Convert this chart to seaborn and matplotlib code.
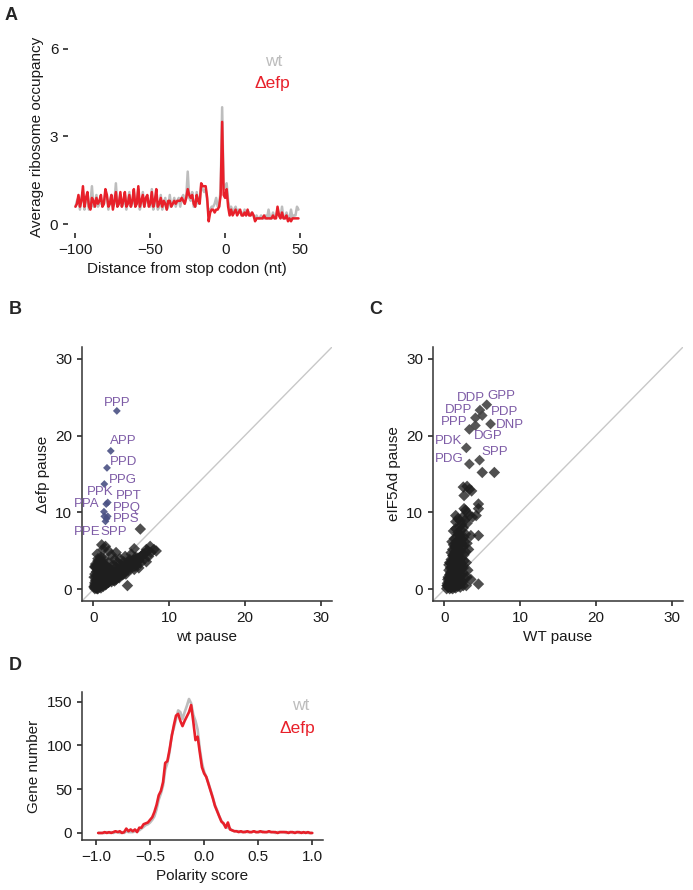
import numpy as np
import pandas as pd
import seaborn as sns
import matplotlib.pyplot as plt

# ---- panel A: average ribosome occupancy around stop codon ----
dist_nt = np.arange(-100, 50)
occ_efp = [0.6, 0.7, 1.0, 0.6, 0.8, 1.3, 0.6, 0.9, 1.1, 0.6,
           0.5, 0.9, 0.8, 0.6, 0.9, 0.7, 0.8, 1.0, 0.6, 0.7,
           1.2, 1.0, 0.6, 0.7, 1.0, 0.5, 0.8, 1.1, 0.6, 0.7,
           1.1, 0.6, 0.8, 1.1, 0.6, 0.7, 1.0, 0.6, 0.8, 1.2,
           0.6, 0.7, 1.3, 0.6, 0.8, 1.0, 0.6, 0.9, 1.0, 0.6,
           0.7, 1.1, 0.6, 0.8, 1.2, 0.6, 0.7, 0.9, 0.6, 0.8,
           0.7, 0.5, 0.8, 0.8, 0.6, 0.7, 0.8, 0.7, 0.8, 0.8,
           0.8, 0.9, 0.8, 0.7, 0.9, 1.2, 1.0, 0.9, 1.0, 0.7,
           0.6, 1.0, 0.8, 0.7, 1.4, 1.3, 1.3, 1.3, 0.9, 0.1,
           0.4, 0.5, 0.5, 0.4, 0.5, 0.5, 0.6, 1.0, 3.5, 1.0,
           0.9, 1.2, 0.6, 0.3, 0.5, 0.3, 0.4, 0.5, 0.3, 0.4,
           0.5, 0.3, 0.3, 0.4, 0.3, 0.5, 0.3, 0.3, 0.4, 0.3,
           0.1, 0.2, 0.2, 0.2, 0.2, 0.2, 0.3, 0.2, 0.2, 0.2,
           0.2, 0.2, 0.3, 0.2, 0.2, 0.6, 0.3, 0.2, 0.4, 0.2,
           0.2, 0.3, 0.1, 0.2, 0.1, 0.2, 0.2, 0.2, 0.2, 0.2]
occ_wt = [0.6, 0.8, 0.9, 0.5, 0.9, 1.1, 0.5, 0.8, 1.0, 0.5,
          0.7, 1.3, 0.6, 0.7, 1.0, 0.6, 0.7, 0.9, 0.6, 0.7,
          1.1, 0.9, 0.5, 0.8, 1.0, 0.6, 0.7, 1.4, 0.6, 0.7,
          1.0, 0.6, 0.7, 1.0, 0.5, 0.8, 1.1, 0.6, 0.7, 1.1,
          0.6, 0.8, 1.2, 0.5, 0.7, 1.1, 0.6, 0.8, 0.9, 0.7,
          0.6, 1.2, 0.5, 0.7, 1.0, 0.5, 0.6, 1.0, 0.5, 0.7,
          0.9, 0.5, 0.6, 1.0, 0.6, 0.7, 0.9, 0.6, 0.8, 0.9,
          0.6, 0.9, 1.0, 0.7, 0.9, 1.8, 0.9, 0.8, 1.1, 0.6,
          0.6, 1.1, 0.7, 0.8, 1.3, 1.2, 1.1, 1.2, 0.8, 0.3,
          0.5, 0.6, 0.6, 0.7, 0.9, 0.6, 0.6, 1.2, 4.0, 1.2,
          1.3, 1.4, 0.8, 0.5, 0.6, 0.4, 0.5, 0.6, 0.4, 0.5,
          0.4, 0.4, 0.3, 0.5, 0.3, 0.4, 0.4, 0.3, 0.4, 0.3,
          0.2, 0.3, 0.2, 0.2, 0.3, 0.2, 0.2, 0.3, 0.2, 0.5,
          0.2, 0.2, 0.4, 0.2, 0.3, 0.5, 0.3, 0.2, 0.6, 0.2,
          0.2, 0.4, 0.2, 0.2, 0.5, 0.2, 0.3, 0.3, 0.6, 0.5]

# ---- panel B: wt vs delta-efp pause scores ----
b_cloud_x = [0.2, 0.4, 0.6, 0.8, 1.0, 0.3, 0.5, 0.7, 0.9, 1.1, 1.3, 0.2, 0.4, 0.6, 0.8, 1.0, 1.2, 1.4, 1.6,
             0.3, 0.5, 0.7, 0.9, 1.1, 1.3, 1.5, 1.7, 1.9, 0.4, 0.6, 0.8, 1.0, 1.2, 1.4, 1.6, 1.8, 2.0, 2.2,
             0.5, 0.7, 0.9, 1.1, 1.3, 1.5, 1.7, 1.9, 2.1, 2.3, 2.5, 2.7, 0.6, 0.9, 1.2, 1.5, 1.8, 2.1, 2.4,
             2.7, 3.0, 3.0, 0.5, 1.0, 1.4, 2.0, 2.6, 3.0, 3.3, 3.6, 3.3, 3.6, 2.8, 3.2, 3.6, 3.9, 4.2, 4.0,
             4.4, 3.5, 4.0, 4.4, 4.8, 4.6, 5.0, 4.2, 4.8, 5.2, 5.5, 5.4, 5.8, 5.0, 5.6, 6.0, 6.2, 6.0, 6.5,
             6.8, 7.0, 7.3, 7.0, 7.6, 8.0, 8.3, 7.5, 4.5, 1.1, 1.6, 2.0, 1.3, 3.0, 2.4, 5.4, 6.2,
             0.1, 0.2, 0.3, 0.1, 0.2, 0.5, 0.4, 0.3, 0.2, 1.6, 2.0, 2.4, 2.8, 3.4, 3.8, 4.3,
             0.1, 0.3, 0.5, 0.7, 0.9, 1.1, 1.3, 1.5, 1.7, 1.9, 2.1, 2.3, 2.5,
             2.9, 3.2, 3.5, 3.8, 4.1, 4.4, 4.7, 5.0, 5.3, 5.6, 5.9, 6.3, 6.6, 6.9, 7.2,
             0.2, 0.6, 1.0, 1.4, 1.8, 2.2, 2.6, 3.1, 3.6, 4.1, 4.6, 5.1, 5.7]
b_cloud_y = [0.1, 0.2, 0.1, 0.3, 0.2, 0.5, 0.7, 0.5, 0.8, 0.5, 0.7, 0.9, 1.1, 1.3, 1.0, 1.2, 1.0, 1.1, 0.9,
             1.6, 1.8, 1.6, 1.9, 1.6, 1.4, 1.5, 1.3, 1.2, 2.3, 2.5, 2.2, 2.6, 2.1, 2.0, 1.9, 1.8, 1.6, 1.4,
             3.0, 3.3, 2.9, 3.1, 2.7, 2.5, 2.4, 2.2, 2.0, 1.8, 1.5, 1.2, 3.7, 3.6, 3.5, 3.2, 3.0, 2.7, 2.4,
             2.1, 1.8, 1.3, 4.6, 4.2, 4.0, 3.5, 3.2, 2.9, 2.5, 2.2, 1.7, 1.9, 3.9, 3.5, 3.2, 2.8, 2.4, 2.0,
             2.7, 4.0, 3.6, 3.3, 3.0, 2.5, 2.7, 4.3, 3.9, 3.5, 3.0, 2.6, 3.2, 4.6, 4.2, 3.8, 3.4, 2.8, 4.5,
             4.0, 3.6, 4.3, 5.2, 4.8, 5.2, 5.0, 5.6, 0.5, 5.8, 5.6, 5.0, 5.2, 4.8, 4.5, 5.3, 7.85,
             0.4, 0.7, 1.2, 1.6, 2.0, 0.1, 2.8, 3.3, 3.0, 0.6, 0.9, 1.0, 1.1, 1.5, 1.9, 2.0,
             0.3, 0.3, 0.4, 0.9, 0.6, 0.8, 0.4, 1.0, 0.7, 0.9, 1.1, 1.2, 1.3,
             1.6, 2.1, 2.4, 2.6, 2.9, 3.1, 3.4, 3.6, 3.8, 3.9, 4.1, 4.3, 4.6, 4.8, 5.0,
             2.9, 4.0, 3.9, 2.9, 2.6, 2.5, 2.6, 2.3, 2.6, 3.2, 3.6, 3.3, 3.5]
b_hit_x = [3.1, 2.3, 1.8, 1.45, 1.7, 1.9, 1.4, 1.9, 1.6, 1.45, 1.75]
b_hit_y = [23.2, 18.0, 15.8, 13.7, 11.1, 11.3, 10.1, 9.5, 8.85, 9.5, 9.2]
b_hit_labels = ["PPP", "APP", "PPD", "PPG", "PPK", "PPT", "PPA", "PPQ", "PPS", "PPE", "SPP"]
b_label_x = [3.1, 3.9, 4.0, 3.9, 0.84, 4.7, -0.9, 4.4, 4.3, -0.8, 2.7]
b_label_y = [24.2, 19.3, 16.5, 14.2, 12.6, 12.1, 11.1, 10.55, 9.15, 7.5, 7.45]

# ---- panel C: WT vs eIF5A-depleted pause scores ----
c_cloud_x = [0.3, 0.5, 0.7, 0.9, 1.1, 1.3, 1.5, 1.8, 2.1, 2.5, 0.4, 0.6, 0.8, 1.0, 1.2, 1.4, 1.6, 1.9, 2.2,
             0.5, 0.7, 0.9, 1.1, 1.3, 1.5, 1.7, 2.0, 2.3, 0.6, 0.8, 1.0, 1.2, 1.4, 1.6, 1.8, 2.1, 2.5,
             0.7, 0.9, 1.1, 1.3, 1.5, 1.7, 1.9, 2.2, 2.6, 0.9, 1.1, 1.3, 1.5, 1.7, 1.9, 2.1, 2.4, 2.8,
             1.0, 1.3, 1.5, 1.7, 1.9, 2.1, 2.3, 2.6, 1.2, 1.5, 1.8, 2.0, 2.2, 2.5, 2.8, 1.5, 1.8, 2.1,
             2.4, 2.7, 3.0, 1.5, 2.6, 3.0, 2.8, 3.3, 3.7, 4.2, 4.5, 4.5, 2.6, 2.5, 3.0, 3.3, 3.6, 3.5,
             4.5, 3.5, 4.5, 2.9, 3.0, 3.2, 2.9, 3.1, 3.0, 2.7, 5.0, 6.6,
             0.4, 0.6, 0.8, 1.0, 1.2, 1.4, 1.7, 2.0, 2.3, 1.2, 1.6, 2.0,
             0.35, 0.55, 0.75, 0.95, 1.15, 1.35, 1.55, 1.75, 1.95, 2.15, 2.35,
             0.45, 0.65, 0.85, 1.05, 1.25, 1.45, 1.65, 1.85, 2.05, 2.25, 2.45,
             0.6, 0.8, 1.0, 1.2, 1.4, 1.6, 1.8, 2.0, 2.2, 2.4, 2.6,
             1.1, 1.3, 1.5, 1.7, 1.9, 2.1, 2.3, 2.5, 2.7]
c_cloud_y = [0.1, 0.3, 0.1, 0.2, 0.1, 0.3, 0.2, 0.4, 0.3, 0.5, 0.8, 1.0, 0.7, 1.2, 0.9, 1.1, 0.8, 1.0, 1.2,
             1.6, 1.9, 1.5, 2.0, 1.7, 2.2, 1.8, 2.0, 1.9, 2.5, 2.8, 2.4, 3.0, 2.6, 3.1, 2.7, 3.0, 2.8,
             3.5, 3.9, 3.4, 4.1, 3.6, 4.2, 3.8, 4.0, 3.7, 4.8, 5.2, 4.7, 5.4, 5.0, 5.6, 5.1, 5.5, 4.9,
             6.2, 6.6, 6.0, 6.9, 6.4, 7.0, 6.5, 6.8, 7.6, 7.9, 7.4, 8.2, 7.7, 8.0, 7.2, 8.8, 9.2, 8.9,
             9.4, 9.0, 8.6, 9.6, 10.5, 10.0, 10.3, 9.6, 9.4, 9.6, 10.5, 11.1, 12.2, 13.3, 13.4, 13.0, 12.8, 7.0,
             7.0, 1.3, 0.7, 0.5, 6.0, 5.2, 3.5, 2.5, 1.6, 1.5, 15.2, 15.2,
             0.5, 1.4, 2.0, 3.3, 4.4, 5.6, 6.3, 7.1, 8.4, 5.8, 4.5, 3.6,
             0.5, 0.6, 0.4, 0.7, 0.5, 0.6, 0.5, 0.7, 0.6, 0.8, 0.9,
             1.3, 1.5, 2.2, 1.6, 2.4, 1.4, 2.4, 1.5, 2.5, 2.7, 2.2,
             3.2, 3.4, 2.9, 3.6, 3.1, 3.5, 3.3, 3.6, 3.4, 3.2, 4.5,
             4.4, 4.3, 4.9, 4.6, 4.4, 4.8, 6.0, 5.7, 6.2]
c_hit_x = [5.6, 4.7, 5.0, 4.1, 3.3, 6.1, 4.1, 2.9, 3.3, 4.65]
c_hit_y = [24.0, 23.3, 22.6, 22.3, 20.8, 21.5, 21.3, 18.4, 16.3, 16.8]
c_hit_labels = ["GPP", "DDP", "PDP", "DPP", "PPP", "DNP", "DGP", "PDK", "PDG", "SPP"]
c_label_x = [7.5, 3.5, 8.0, 1.9, 1.3, 8.6, 5.75, 0.57, 0.7, 6.7]
c_label_y = [25.1, 24.9, 23.1, 23.3, 21.8, 21.4, 19.9, 19.3, 17.0, 17.8]

# ---- panel D: polarity score distribution ----
polarity = np.round(np.linspace(-0.98, 1.0, 100), 2)
genes_efp = [0, 0, 0, 1, 0, 1, 0, 1, 2, 1, 2, 0, 1, 5, 2, 4, 2, 4, 1, 6,
             6, 10, 11, 12, 15, 18, 24, 32, 43, 48, 58, 80, 82, 95, 110, 123, 134, 136, 128, 122,
             128, 133, 138, 146, 127, 106, 110, 92, 75, 68, 64, 56, 48, 40, 31, 25, 19, 13, 11, 6,
             12, 4, 3, 2, 2, 1, 2, 1, 1, 2, 1, 1, 2, 1, 1, 2, 1, 1, 1, 2,
             1, 1, 1, 0, 1, 1, 1, 1, 0, 1, 1, 0, 1, 1, 0, 1, 0, 1, 0, 0]
genes_wt = [0, 0, 0, 0, 1, 0, 1, 0, 1, 1, 0, 1, 0, 2, 1, 1, 1, 2, 3, 3,
            5, 7, 9, 10, 12, 15, 19, 27, 38, 45, 54, 72, 80, 92, 112, 120, 130, 140, 138, 130,
            138, 145, 153, 148, 135, 128, 118, 96, 80, 70, 64, 57, 49, 41, 32, 26, 19, 14, 10, 8,
            6, 5, 3, 2, 2, 2, 1, 1, 2, 1, 1, 1, 2, 1, 1, 1, 2, 1, 1, 1,
            1, 1, 0, 1, 1, 1, 1, 0, 1, 1, 0, 1, 1, 0, 1, 0, 1, 0, 0, 0]

GREY = "#BDBDBD"
RED = "#E8202A"
PURPLE = "#7D5BA6"
INK = "#1a1a1a"

sns.set_theme(style="ticks")
plt.rcParams["font.family"] = ["Liberation Sans", "DejaVu Sans"]
plt.rcParams.update({"axes.edgecolor": "#333333", "axes.linewidth": 1.1,
                     "xtick.color": "#333333", "ytick.color": "#333333",
                     "xtick.labelcolor": INK, "ytick.labelcolor": INK,
                     "xtick.labelsize": 11, "ytick.labelsize": 11,
                     "axes.labelsize": 11, "axes.labelcolor": INK,
                     "xtick.major.size": 3.5, "ytick.major.size": 3.5})

fig = plt.figure(figsize=(6.93, 8.9), dpi=100)

# panel A
axA = fig.add_axes([0.0981, 0.7382, 0.3434, 0.2169])
dfA = pd.DataFrame({"dist": np.concatenate([dist_nt, dist_nt]),
                    "occ": occ_wt + occ_efp,
                    "strain": ["wt"] * len(dist_nt) + ["efp"] * len(dist_nt)})
sns.lineplot(data=dfA, x="dist", y="occ", hue="strain", palette={"wt": GREY, "efp": RED},
             linewidth=1.8, legend=False, ax=axA)
axA.set_xlim(-105, 54)
axA.set_ylim(-0.3, 6.3)
axA.set_xticks([-100, -50, 0, 50])
axA.set_yticks([0, 3, 6])
for s in axA.spines.values():
    s.set_visible(False)
axA.set_xlabel("Distance from stop codon (nt)")
axA.set_ylabel("Average ribosome occupancy")
axA.text(0.866, 0.89, "wt", color=GREY, fontsize=12.5, ha="center", va="center", transform=axA.transAxes)
axA.text(0.857, 0.772, "\u0394efp", color=RED, fontsize=12.5, ha="center", va="center", transform=axA.transAxes)


def pause_panel(ax, cx, cy, hx, hy, hl, lx, ly, hit_color, hit_size, xlabel, ylabel):
    ax.plot([-2, 32], [-2, 32], color="#C8C8C8", lw=1.0, zorder=1)
    sns.scatterplot(x=cx, y=cy, marker="D", s=34, color="#1e1e1e", alpha=0.78,
                    edgecolor="none", ax=ax, zorder=2)
    sns.scatterplot(x=hx, y=hy, marker="D", s=hit_size, color=hit_color, alpha=0.9,
                    edgecolor="none", ax=ax, zorder=3)
    for t, x, y in zip(hl, lx, ly):
        ax.text(x, y, t, color=PURPLE, fontsize=9.5, ha="center", va="center", zorder=4)
    ax.set_xlim(-1.5, 31.5)
    ax.set_ylim(-1.5, 31.5)
    ax.set_xticks([0, 10, 20, 30])
    ax.set_yticks([0, 10, 20, 30])
    ax.set_xlabel(xlabel)
    ax.set_ylabel(ylabel)
    sns.despine(ax=ax)


axB = fig.add_axes([0.1183, 0.3247, 0.3608, 0.2854])
pause_panel(axB, b_cloud_x, b_cloud_y, b_hit_x, b_hit_y, b_hit_labels, b_label_x, b_label_y,
            "#4a5184", 16, "wt pause", "\u0394efp pause")

axC = fig.add_axes([0.6248, 0.3247, 0.3608, 0.2854])
pause_panel(axC, c_cloud_x, c_cloud_y, c_hit_x, c_hit_y, c_hit_labels, c_label_x, c_label_y,
            "#444444", 30, "WT pause", "eIF5Ad pause")

# panel D
axD = fig.add_axes([0.1183, 0.0562, 0.3478, 0.1663])
dfD = pd.DataFrame({"score": np.concatenate([polarity, polarity]),
                    "n": genes_wt + genes_efp,
                    "strain": ["wt"] * len(polarity) + ["efp"] * len(polarity)})
sns.lineplot(data=dfD, x="score", y="n", hue="strain", palette={"wt": GREY, "efp": RED},
             linewidth=1.9, legend=False, ax=axD)
axD.set_xlim(-1.13, 1.1)
axD.set_ylim(-8, 161)
axD.set_xticks([-1.0, -0.5, 0.0, 0.5, 1.0])
axD.set_yticks([0, 50, 100, 150])
axD.set_xlabel("Polarity score")
axD.set_ylabel("Gene number")
sns.despine(ax=axD)
axD.text(0.909, 0.907, "wt", color=GREY, fontsize=12.5, ha="center", va="center", transform=axD.transAxes)
axD.text(0.895, 0.755, "\u0394efp", color=RED, fontsize=12.5, ha="center", va="center", transform=axD.transAxes)

# panel letters
for letter, px, py in [("A", 11, 16), ("B", 15, 310), ("C", 376, 310), ("D", 15, 665)]:
    fig.text(px / 693, 1 - py / 890, letter, fontsize=13, fontweight="bold", ha="center", va="center")

fig.savefig("out.png", dpi=100)
